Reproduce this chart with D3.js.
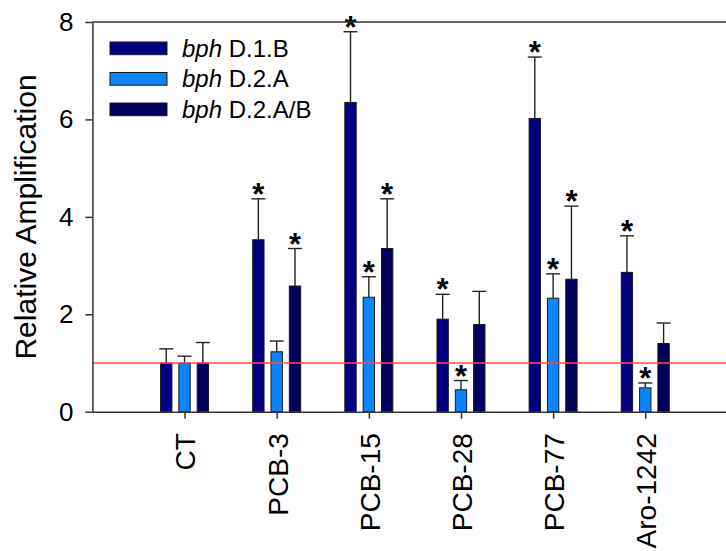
<!DOCTYPE html>
<html>
<head>
<meta charset="utf-8">
<script src="https://cdn.jsdelivr.net/npm/d3@7"></script>
<style>
    body { margin: 0; background: #fff; }
    text { font-family: "Liberation Sans", Arial, sans-serif; }
</style>
</head>
<body>
<div id="chart"></div>
<script>
// chart data
var categories = ["CT", "PCB-3", "PCB-15", "PCB-28", "PCB-77", "Aro-1242"];
var seriesNames = ["D.1.B", "D.2.A", "D.2.A/B"];
var d1b = [1.00, 3.53, 6.35, 1.90, 6.02, 2.86];
var d2a = [1.00, 1.23, 2.35, 0.45, 2.33, 0.49];
var d2ab = [1.00, 2.58, 3.35, 1.79, 2.72, 1.40];
var d1bErr = [0.29, 0.84, 1.45, 0.51, 1.26, 0.75];
var d2aErr = [0.14, 0.22, 0.42, 0.19, 0.50, 0.10];
var d2abErr = [0.42, 0.77, 1.02, 0.68, 1.50, 0.42];
var d1bSig = [false, true, true, true, true, true];
var d2aSig = [false, false, true, true, true, true];
var d2abSig = [false, true, true, false, true, false];
var yTicks = [0, 2, 4, 6, 8];
var referenceLevel = 1;

function init() {
    var w = 726;
    var h = 551;
    var colors = ["#000080", "#0a84ff", "#00005c"];

    var series = [
        { name: seriesNames[0], values: d1b, err: d1bErr, sig: d1bSig },
        { name: seriesNames[1], values: d2a, err: d2aErr, sig: d2aSig },
        { name: seriesNames[2], values: d2ab, err: d2abErr, sig: d2abSig }
    ];

    // flatten into one row per bar
    var bars = [];
    series.forEach(function(s, si) {
        s.values.forEach(function(v, ci) {
            bars.push({ series: si, cat: ci, value: v, top: v + s.err[ci], sig: s.sig[ci] });
        });
    });

    var xScale = d3.scaleLinear()
        .domain([0, categories.length + 1])
        .range([92.4, 737.4]);

    var inner = d3.scaleBand()
        .domain(d3.range(series.length))
        .range([-24, 24])
        .paddingInner(0.38);

    var yScale = d3.scaleLinear()
        .domain([0, 8])
        .range([411.7, 22]);

    var svg = d3.select("#chart")
        .append("svg")
        .attr("width", w)
        .attr("height", h);

    // bars
    svg.append("g")
        .selectAll("rect")
        .data(bars)
        .enter()
        .append("rect")
        .attr("x", function(d) { return xScale(d.cat + 1) + inner(d.series); })
        .attr("y", function(d) { return yScale(d.value); })
        .attr("width", inner.bandwidth())
        .attr("height", function(d) { return yScale(0) - yScale(d.value); })
        .attr("fill", function(d) { return colors[d.series]; })
        .attr("stroke", "#1a1a1a")
        .attr("stroke-width", 1);

    // error bars (upper only)
    var errs = svg.append("g")
        .attr("stroke", "#222")
        .attr("stroke-width", 1.4);

    errs.selectAll("line.stem")
        .data(bars)
        .enter()
        .append("line")
        .attr("class", "stem")
        .attr("x1", function(d) { return xScale(d.cat + 1) + inner(d.series) + inner.bandwidth() / 2; })
        .attr("x2", function(d) { return xScale(d.cat + 1) + inner(d.series) + inner.bandwidth() / 2; })
        .attr("y1", function(d) { return yScale(d.value); })
        .attr("y2", function(d) { return yScale(d.top); });

    errs.selectAll("line.cap")
        .data(bars)
        .enter()
        .append("line")
        .attr("class", "cap")
        .attr("x1", function(d) { return xScale(d.cat + 1) + inner(d.series) + inner.bandwidth() / 2 - 7; })
        .attr("x2", function(d) { return xScale(d.cat + 1) + inner(d.series) + inner.bandwidth() / 2 + 7; })
        .attr("y1", function(d) { return yScale(d.top); })
        .attr("y2", function(d) { return yScale(d.top); });

    // significance stars
    svg.append("g")
        .selectAll("text")
        .data(bars.filter(function(d) { return d.sig; }))
        .enter()
        .append("text")
        .attr("x", function(d) { return xScale(d.cat + 1) + inner(d.series) + inner.bandwidth() / 2; })
        .attr("y", function(d) { return yScale(d.top) + 6; })
        .attr("text-anchor", "middle")
        .style("font-size", "31px")
        .style("font-weight", "bold")
        .text("*");

    // reference line at 1
    svg.append("line")
        .attr("x1", xScale(0))
        .attr("x2", w)
        .attr("y1", yScale(referenceLevel))
        .attr("y2", yScale(referenceLevel))
        .attr("stroke", "#ff4a4a")
        .attr("stroke-width", 1.6);

    // top frame line
    svg.append("line")
        .attr("x1", xScale(0))
        .attr("x2", w)
        .attr("y1", yScale(8))
        .attr("y2", yScale(8))
        .attr("stroke", "#333")
        .attr("stroke-width", 1.5);

    // x axis
    var xAxis = d3.axisBottom(xScale)
        .tickValues(d3.range(1, categories.length + 1))
        .tickFormat(function(i) { return categories[i - 1]; })
        .tickSizeInner(7)
        .tickSizeOuter(0);

    var gx = svg.append("g")
        .attr("transform", "translate(0," + yScale(0) + ")")
        .call(xAxis);
    gx.select(".domain").attr("stroke", "#333").attr("stroke-width", 1.5);
    gx.selectAll(".tick line").attr("stroke", "#333").attr("stroke-width", 1.5);
    gx.selectAll(".tick text")
        .attr("transform", "translate(0,21.5) rotate(-90)")
        .attr("x", 0)
        .attr("y", 0)
        .attr("dy", "0.37em")
        .attr("text-anchor", "end")
        .attr("fill", "#000")
        .style("font-size", "28px");

    // y axis
    var yAxis = d3.axisLeft(yScale)
        .tickValues(yTicks)
        .tickSizeInner(7)
        .tickSizeOuter(0)
        .tickPadding(12);

    var gy = svg.append("g")
        .attr("transform", "translate(" + xScale(0) + ",0)")
        .call(yAxis);
    gy.select(".domain").attr("stroke", "#333").attr("stroke-width", 1.5);
    gy.selectAll(".tick line").attr("stroke", "#333").attr("stroke-width", 1.5);
    gy.selectAll(".tick text")
        .attr("fill", "#000")
        .style("font-size", "26px");

    // y label
    svg.append("text")
        .attr("transform", "translate(36,217) rotate(-90)")
        .attr("text-anchor", "middle")
        .style("font-size", "30px")
        .text("Relative Amplification");

    // legend
    var legend = svg.append("g")
        .selectAll("g")
        .data(series)
        .enter()
        .append("g")
        .attr("transform", function(d, i) { return "translate(110," + (42 + i * 30.5) + ")"; });

    legend.append("rect")
        .attr("width", 57)
        .attr("height", 12.7)
        .attr("fill", function(d, i) { return colors[i]; })
        .attr("stroke", "#1a1a1a")
        .attr("stroke-width", 1);

    var lt = legend.append("text")
        .attr("x", 72)
        .attr("y", 14.7)
        .style("font-size", "24px");
    lt.append("tspan").style("font-style", "italic").text("bph");
    lt.append("tspan").text(function(d) { return " " + d.name; });
}

window.onload = init;
</script>
</body>
</html>
